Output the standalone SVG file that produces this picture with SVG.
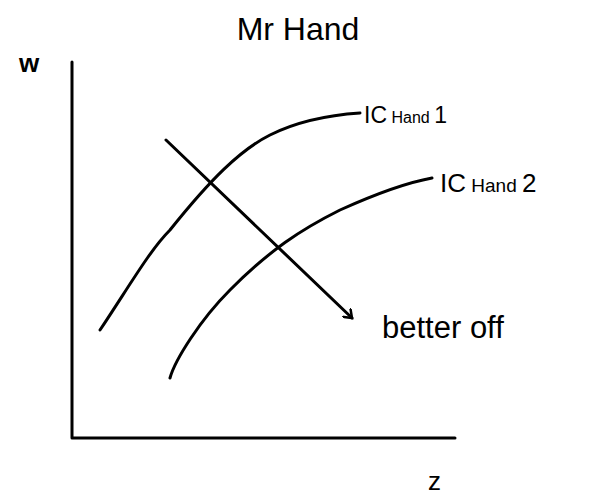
<svg xmlns="http://www.w3.org/2000/svg" width="594" height="499" viewBox="0 0 594 499">
<style>
.ln{fill:none;stroke:#000;stroke-width:3;stroke-linecap:round;stroke-linejoin:round}
.t{font-family:"Liberation Sans",Arial,sans-serif;fill:#000}
</style>
<defs>
<marker id="ah" markerWidth="12" markerHeight="12" refX="8" refY="6" orient="auto" markerUnits="userSpaceOnUse">
<path d="M0,0 L8,6 L0,12" fill="none" stroke="#000" stroke-width="2.5"/>
</marker>
</defs>
<rect width="594" height="499" fill="#fff"/>
<g id="title"><text class="t" x="298" y="40" font-size="32" text-anchor="middle">Mr Hand</text></g>
<g id="axes">
<path class="ln" d="M72,62 L72,438 L455,438"/>
<text class="t" x="19" y="72" font-size="26" font-weight="bold">w</text>
<text class="t" x="428" y="490" font-size="26">z</text>
</g>
<g id="connectors">
<path id="ic1" class="ln" d="M100,330 C130,285 150,250 170,230 C210,180 240,150 270,135 C300,120 330,115 360,113"/>
<path id="ic2" class="ln" d="M170,378 C175,360 200,320 230,290 C270,250 300,230 340,210 C380,192 410,182 432,178"/>
<path id="arrow" class="ln" d="M166,140 L352,318" marker-end="url(#ah)"/>
</g>
<g id="label-ic1"><text class="t" x="364" y="123" font-size="23">IC<tspan font-size="16"> Hand </tspan>1</text></g>
<g id="label-ic2"><text class="t" x="440" y="192" font-size="26">IC<tspan font-size="19"> Hand </tspan>2</text></g>
<g id="label-better"><text class="t" x="382" y="338" font-size="31">better off</text></g>
</svg>
